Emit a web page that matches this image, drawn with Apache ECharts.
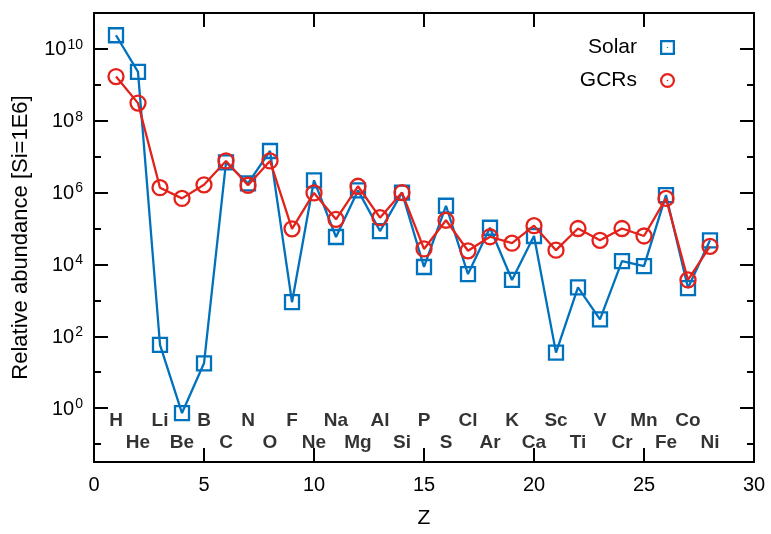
<!DOCTYPE html>
<html>
<head>
<meta charset="utf-8">
<script src="https://cdn.jsdelivr.net/npm/echarts@6/dist/echarts.min.js"></script>
<style>html,body{margin:0;padding:0;background:#fff}#c{width:771px;height:534px}</style>
</head>
<body>
<div id="c"></div>
<script>
var Z = [1,2,3,4,5,6,7,8,9,10,11,12,13,14,15,16,17,18,19,20,21,22,23,24,25,26,27,28];
var elements = ['H','He','Li','Be','B','C','N','O','F','Ne','Na','Mg','Al','Si','P','S','Cl','Ar','K','Ca','Sc','Ti','V','Cr','Mn','Fe','Co','Ni'];
var solar = [2.4e10, 2.3e9, 58, 0.73, 17.7, 6.9e6, 1.8e6, 1.44e7, 890, 2.2e6, 5.8e4, 1.15e6, 8.5e4, 1.0e6, 8.5e3, 4.3e5, 5.4e3, 1.05e5, 3.7e3, 6.2e4, 35, 2.3e3, 295, 1.23e4, 9e3, 8.5e5, 2.2e3, 4.7e4];
var gcr = [1.7e9, 3.1e8, 1.37e6, 6.9e5, 1.65e6, 7.6e6, 1.6e6, 7.6e6, 9.8e4, 9.8e5, 1.8e5, 1.5e6, 2.0e5, 1.0e6, 2.7e4, 1.7e5, 2.4e4, 5.9e4, 3.9e4, 1.2e5, 2.5e4, 1.0e5, 4.7e4, 1.0e5, 6.2e4, 6.9e5, 3.7e3, 3.2e4];
var seriesNames = ['Solar', 'GCRs'];
var xTicks = [0, 5, 10, 15, 20, 25, 30];
var yDecadeLabels = [0, 2, 4, 6, 8, 10];

var BLUE = '#0072bd', RED = '#e3221b';
var FONT = '"Liberation Sans", Arial, Helvetica, sans-serif';

function pts(arr) { return Z.map(function (z, i) { return [z, Math.log10(arr[i])]; }); }
var elemData = elements.map(function (e, i) {
  return { name: e, value: [Z[i], (Z[i] % 2 === 1) ? -0.36 : -0.96] };
});

var squareIcon = 'path://M0,0H10V10H0Z M1.5,1.5V8.5H8.5V1.5Z M4.6,4.6H5.4V5.4H4.6Z';
var circleIcon = 'path://M5,0A5,5 0 1,1 5,10A5,5 0 1,1 5,0Z M5,1.5A3.5,3.5 0 1,0 5,8.5A3.5,3.5 0 1,0 5,1.5Z M5,4.5A0.5,0.5 0 1,1 5,5.5A0.5,0.5 0 1,1 5,4.5Z';

function yLabel(v) {
  var r = Math.round(v);
  if (Math.abs(v - r) < 1e-6 && yDecadeLabels.indexOf(r) >= 0) {
    return '{b|10}{s|' + r + '}';
  }
  return '';
}

var tickLine = { color: '#000', width: 2 };
var chart = echarts.init(document.getElementById('c'), null, { renderer: 'canvas' });
chart.setOption({
  animation: false,
  backgroundColor: '#fff',
  grid: { left: 94, right: 17, top: 13, bottom: 63, containLabel: false },
  legend: {
    orient: 'vertical',
    right: 91,
    top: 32,
    align: 'right',
    itemWidth: 15,
    itemHeight: 15,
    itemGap: 12,
    textStyle: { fontFamily: FONT, fontSize: 21, color: '#000', padding: [0, 18, 0, 0] },
    data: [
      { name: seriesNames[0], icon: squareIcon, itemStyle: { color: BLUE, borderWidth: 0 } },
      { name: seriesNames[1], icon: circleIcon, itemStyle: { color: RED, borderWidth: 0 } }
    ]
  },
  xAxis: [{
    type: 'value', min: xTicks[0], max: xTicks[xTicks.length - 1], interval: 5,
    name: 'Z', nameLocation: 'middle', nameGap: 46,
    nameTextStyle: { fontFamily: FONT, fontSize: 21, color: '#000' },
    axisLine: { show: true, onZero: false, lineStyle: tickLine },
    axisTick: { show: true, inside: true, length: 14, lineStyle: tickLine },
    axisLabel: { fontFamily: FONT, fontSize: 20, color: '#000', margin: 13 },
    splitLine: { show: false }
  }, {
    type: 'value', position: 'top', min: xTicks[0], max: xTicks[xTicks.length - 1], interval: 5,
    axisLine: { show: true, onZero: false, lineStyle: tickLine },
    axisTick: { show: true, inside: true, length: 14, lineStyle: tickLine },
    axisLabel: { show: false },
    splitLine: { show: false }
  }],
  yAxis: [{
    type: 'value', min: -1.5, max: 11, splitNumber: 6,
    name: 'Relative abundance [Si=1E6]', nameLocation: 'middle', nameGap: 62,
    nameTextStyle: { fontFamily: FONT, fontSize: 22, color: '#000' },
    axisLine: { show: true, onZero: false, lineStyle: tickLine },
    axisTick: { show: true, inside: true, length: 14, lineStyle: tickLine },
    minorTick: { show: true, splitNumber: 2, length: 7, lineStyle: tickLine },
    axisLabel: {
      formatter: yLabel, margin: 11, showMinLabel: true, showMaxLabel: true,
      rich: {
        b: { fontFamily: FONT, fontSize: 20, color: '#000', lineHeight: 22, verticalAlign: 'bottom' },
        s: { fontFamily: FONT, fontSize: 14, color: '#000', lineHeight: 14, verticalAlign: 'top', padding: [0, 0, 0, 1] }
      }
    },
    splitLine: { show: false }
  }, {
    type: 'value', position: 'right', min: -1.5, max: 11, splitNumber: 6,
    axisLine: { show: true, onZero: false, lineStyle: tickLine },
    axisTick: { show: true, inside: true, length: 14, lineStyle: tickLine },
    minorTick: { show: true, splitNumber: 2, length: 7, lineStyle: tickLine },
    axisLabel: { show: false },
    splitLine: { show: false }
  }],
  series: [{
    name: seriesNames[0], type: 'line', data: pts(solar),
    symbol: 'rect', symbolSize: 14,
    itemStyle: { color: 'rgba(0,0,0,0)', borderColor: BLUE, borderWidth: 2.3 },
    lineStyle: { color: BLUE, width: 2.3 },
    z: 3
  }, {
    name: seriesNames[1], type: 'line', data: pts(gcr),
    symbol: 'circle', symbolSize: 15,
    itemStyle: { color: 'rgba(0,0,0,0)', borderColor: RED, borderWidth: 2.3 },
    lineStyle: { color: RED, width: 2.3 },
    z: 4
  }, {
    name: 'elements', type: 'scatter', data: elemData, symbolSize: 0, silent: true,
    label: {
      show: true, position: 'inside', formatter: '{b}',
      fontFamily: FONT, fontSize: 19, fontWeight: 'bold', color: '#000'
    },
    z: 2
  }]
});
</script>
</body>
</html>
